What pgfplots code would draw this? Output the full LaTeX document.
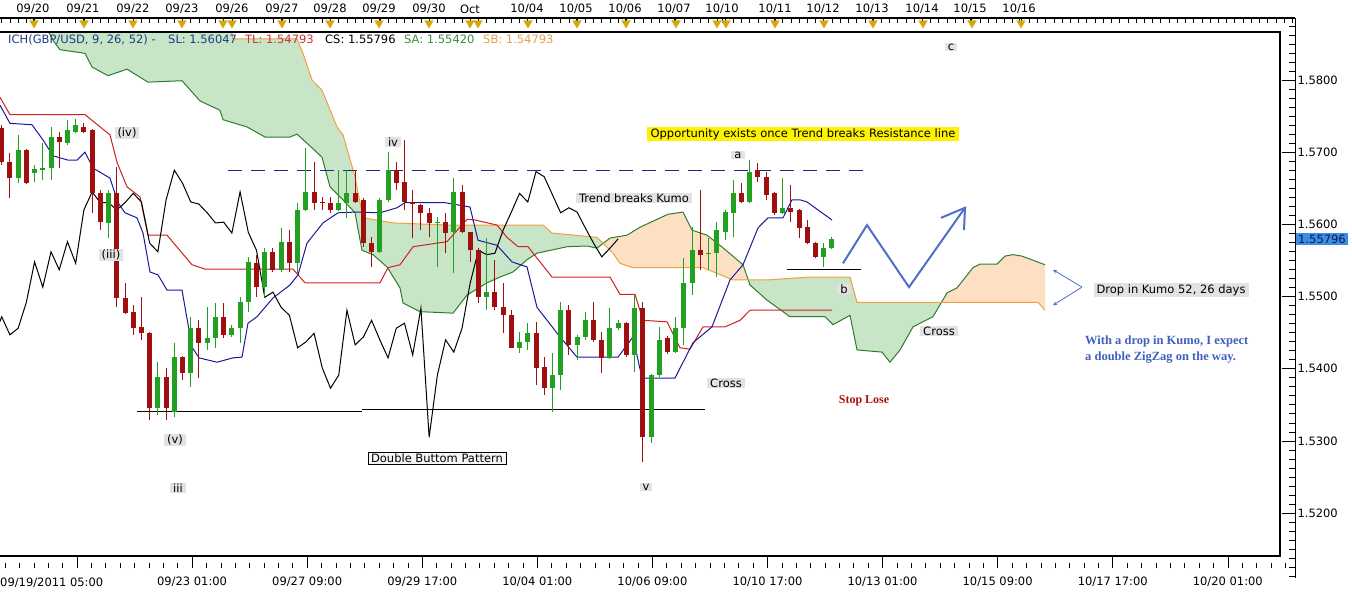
\documentclass[border=0pt]{standalone}
\usepackage{fontspec}
\setmainfont{DejaVu Sans}
\newfontfamily\serifb{Liberation Serif}
\usepackage{pgfplots}
\usepackage{pgfplotstable}
\pgfplotsset{compat=1.18}
\newcommand\tf{\fontsize{11.5}{13}\selectfont}
\definecolor{cred}{HTML}{A00F0F}
\definecolor{cgreen}{HTML}{22A022}
\definecolor{cloudg}{HTML}{C8E5C8}
\definecolor{cloudo}{HTML}{FDDFC4}
\definecolor{lineg}{HTML}{2E7D2E}
\definecolor{lineo}{HTML}{F0A040}
\definecolor{tenkan}{HTML}{1A1A9A}
\definecolor{kijun}{HTML}{D02020}
\definecolor{gold}{HTML}{D4A80A}
\definecolor{zig}{HTML}{4F6FC8}
\definecolor{lblgray}{HTML}{E2E2E2}
\definecolor{hlblue}{HTML}{3A8EE6}
\definecolor{navyd}{HTML}{1A2A80}
\definecolor{hltext}{HTML}{101848}
\definecolor{ichblue}{HTML}{1F3C88}
\definecolor{tlred}{HTML}{CC3333}
\definecolor{sagreen}{HTML}{3E8E3E}
\definecolor{sborange}{HTML}{E3A14F}
\definecolor{stopred}{HTML}{B01010}
\definecolor{zigtext}{HTML}{4060C0}

\pgfplotstableread{
i o h l c
2 1.5664 1.5724 1.5657 1.5703
4 1.5671 1.5682 1.5659 1.5677
5 1.5675 1.5713 1.5661 1.5678
6 1.5678 1.5735 1.5661 1.5721
8 1.5713 1.5745 1.5710 1.5731
9 1.5728 1.5746 1.5727 1.5738
13 1.5602 1.5648 1.5581 1.5643
19 1.5346 1.5409 1.5336 1.5388
21 1.5340 1.5436 1.5333 1.5416
23 1.5394 1.5472 1.5375 1.5456
25 1.5436 1.5485 1.5426 1.5443
26 1.5443 1.5491 1.5429 1.5472
28 1.5447 1.5461 1.5444 1.5456
29 1.5456 1.5499 1.5436 1.5492
30 1.5492 1.5555 1.5479 1.5548
32 1.5513 1.5567 1.5499 1.5562
34 1.5537 1.5595 1.5534 1.5576
36 1.5546 1.5630 1.5533 1.5620
37 1.5620 1.5706 1.5619 1.5645
41 1.5620 1.5675 1.5619 1.5630
42 1.5630 1.5675 1.5609 1.5643
46 1.5562 1.5637 1.5560 1.5634
47 1.5634 1.5700 1.5631 1.5675
53 1.5602 1.5610 1.5541 1.5603
55 1.5589 1.5664 1.5533 1.5645
59 1.5499 1.5581 1.5481 1.5506
63 1.5429 1.5451 1.5422 1.5437
64 1.5437 1.5463 1.5426 1.5449
67 1.5373 1.5422 1.5340 1.5391
68 1.5391 1.5492 1.5370 1.5481
70 1.5433 1.5447 1.5412 1.5444
71 1.5444 1.5479 1.5440 1.5467
74 1.5415 1.5484 1.5414 1.5456
75 1.5456 1.5467 1.5454 1.5463
77 1.5419 1.5502 1.5395 1.5484
79 1.5305 1.5392 1.5297 1.5391
80 1.5391 1.5458 1.5388 1.5440
82 1.5423 1.5472 1.5422 1.5456
83 1.5456 1.5553 1.5433 1.5519
84 1.5519 1.5596 1.5502 1.5564
86 1.5559 1.5581 1.5537 1.5560
87 1.5560 1.5603 1.5527 1.5592
88 1.5589 1.5620 1.5578 1.5617
89 1.5616 1.5661 1.5582 1.5643
91 1.5631 1.5689 1.5630 1.5673
95 1.5616 1.5664 1.5615 1.5623
100 1.5555 1.5574 1.5541 1.5567
101 1.5567 1.5582 1.5566 1.5580
}\greentab

\pgfplotstableread{
i o h l c
0 1.5734 1.5738 1.5682 1.5686
1 1.5686 1.5699 1.5637 1.5664
3 1.5703 1.5704 1.5656 1.5657
7 1.5721 1.5728 1.5678 1.5714
10 1.5735 1.5740 1.5727 1.5728
11 1.5731 1.5732 1.5616 1.5643
12 1.5643 1.5648 1.5592 1.5603
14 1.5643 1.5679 1.5485 1.5498
15 1.5498 1.5519 1.5476 1.5477
16 1.5479 1.5488 1.5447 1.5456
17 1.5458 1.5499 1.5440 1.5449
18 1.5449 1.5451 1.5329 1.5346
20 1.5388 1.5401 1.5329 1.5346
22 1.5416 1.5417 1.5384 1.5394
24 1.5456 1.5467 1.5387 1.5436
27 1.5472 1.5491 1.5443 1.5447
31 1.5546 1.5558 1.5499 1.5513
33 1.5562 1.5567 1.5534 1.5537
35 1.5576 1.5592 1.5534 1.5546
38 1.5645 1.5686 1.5620 1.5630
39 1.5631 1.5638 1.5620 1.5630
40 1.5630 1.5638 1.5616 1.5620
43 1.5643 1.5675 1.5630 1.5631
44 1.5634 1.5637 1.5569 1.5574
45 1.5574 1.5582 1.5541 1.5562
48 1.5675 1.5686 1.5648 1.5657
49 1.5659 1.5717 1.5620 1.5631
50 1.5631 1.5648 1.5581 1.5628
51 1.5627 1.5628 1.5592 1.5616
52 1.5616 1.5623 1.5582 1.5602
54 1.5603 1.5616 1.5560 1.5588
56 1.5645 1.5655 1.5588 1.5589
57 1.5589 1.5590 1.5548 1.5564
58 1.5564 1.5567 1.5491 1.5499
60 1.5506 1.5551 1.5481 1.5485
61 1.5485 1.5519 1.5449 1.5474
62 1.5474 1.5481 1.5428 1.5429
65 1.5449 1.5465 1.5377 1.5401
66 1.5402 1.5416 1.5364 1.5373
69 1.5481 1.5488 1.5419 1.5433
72 1.5467 1.5492 1.5437 1.5440
73 1.5440 1.5451 1.5394 1.5415
76 1.5463 1.5465 1.5416 1.5419
78 1.5484 1.5492 1.5271 1.5305
81 1.5443 1.5445 1.5421 1.5423
85 1.5564 1.5648 1.5537 1.5558
90 1.5643 1.5657 1.5630 1.5631
92 1.5675 1.5685 1.5659 1.5666
93 1.5666 1.5673 1.5634 1.5641
94 1.5643 1.5645 1.5613 1.5616
96 1.5623 1.5655 1.5603 1.5617
97 1.5620 1.5621 1.5581 1.5595
98 1.5596 1.5606 1.5573 1.5574
99 1.5574 1.5575 1.5553 1.5555
}\redtab

\pgfplotstableread{
i c
25 1.5443
26 1.5472
27 1.5447
28 1.5456
29 1.5492
30 1.5548
31 1.5513
32 1.5562
33 1.5537
34 1.5576
35 1.5546
36 1.5620
37 1.5645
38 1.5630
39 1.5630
40 1.5620
41 1.5630
42 1.5643
43 1.5631
44 1.5574
45 1.5562
46 1.5634
47 1.5675
48 1.5657
49 1.5631
50 1.5628
51 1.5616
52 1.5602
53 1.5603
54 1.5588
55 1.5645
56 1.5589
57 1.5564
58 1.5499
59 1.5506
60 1.5485
61 1.5474
62 1.5429
63 1.5437
64 1.5449
65 1.5401
66 1.5373
67 1.5391
68 1.5481
69 1.5433
70 1.5444
71 1.5467
72 1.5440
73 1.5415
74 1.5456
75 1.5463
76 1.5419
77 1.5484
78 1.5305
79 1.5391
80 1.5440
81 1.5423
82 1.5456
83 1.5519
84 1.5564
85 1.5558
86 1.5560
87 1.5592
88 1.5617
89 1.5643
90 1.5631
91 1.5673
92 1.5666
93 1.5641
94 1.5616
95 1.5623
96 1.5617
97 1.5595
98 1.5574
99 1.5555
100 1.5567
101 1.5580
}\closetab

\pgfplotstableread{
x y
0 1.5765
10 1.5740
32 1.5738
43 1.5717
53 1.5695
68 1.5689
77 1.5689
85 1.5700
93 1.5678
110 1.5664
118 1.5630
125 1.5616
137 1.5609
143 1.5588
150 1.5534
158 1.5530
167 1.5509
182 1.5509
192 1.5430
199 1.5415
217 1.5409
233 1.5415
242 1.5416
248 1.5463
257 1.5472
273 1.5498
290 1.5516
298 1.5530
307 1.5574
323 1.5602
338 1.5616
356 1.5617
380 1.5616
397 1.5623
405 1.5630
445 1.5630
470 1.5624
478 1.5578
497 1.5571
512 1.5548
527 1.5541
537 1.5485
560 1.5444
577 1.5416
618 1.5416
633 1.5444
642 1.5387
675 1.5387
693 1.5436
712 1.5458
730 1.5523
743 1.5544
758 1.5595
768 1.5609
783 1.5609
792 1.5634
800 1.5634
807 1.5631
832 1.5606
}\tenkantab

\pgfplotstableread{
x y
0 1.5776
10 1.5752
85 1.5752
110 1.5724
117 1.5686
127 1.5652
140 1.5638
148 1.5585
167 1.5585
192 1.5544
205 1.5538
293 1.5538
305 1.5519
380 1.5519
388 1.5540
400 1.5544
413 1.5569
447 1.5576
467 1.5607
475 1.5606
497 1.5599
507 1.5582
518 1.5569
528 1.5569
552 1.5527
610 1.5527
620 1.5503
635 1.5503
643 1.5467
667 1.5465
680 1.5429
690 1.5427
703 1.5458
725 1.5458
740 1.5467
750 1.5481
832 1.5481
}\kijuntab

\pgfplotstableread{
x y
45 1.5876
53 1.5855
60 1.5842
85 1.5837
92 1.5818
108 1.5806
127 1.5815
148 1.5797
182 1.5799
200 1.5771
220 1.5758
223 1.5745
247 1.5735
265 1.5721
290 1.5721
297 1.5725
312 1.5706
322 1.5693
330 1.5652
343 1.5634
355 1.5616
362 1.5564
373 1.5558
387 1.5541
400 1.5512
403 1.5491
420 1.5479
453 1.5477
467 1.5502
487 1.5519
500 1.5527
513 1.5534
527 1.5551
537 1.5560
567 1.5569
587 1.5570
597 1.5567
610 1.5581
627 1.5585
640 1.5596
668 1.5614
683 1.5617
692 1.5592
707 1.5585
720 1.5571
743 1.5544
750 1.5516
767 1.5495
790 1.5472
825 1.5472
833 1.5461
850 1.5474
857 1.5426
882 1.5423
890 1.5409
900 1.5426
913 1.5458
933 1.5472
947 1.5505
957 1.5512
973 1.5540
980 1.5545
997 1.5545
1005 1.5556
1013 1.5558
1022 1.5556
1045 1.5544
}\satab

\pgfplotstableread{
x y
45 1.5890
228 1.5890
233 1.5857
297 1.5857
303 1.5837
312 1.5800
322 1.5786
337 1.5735
343 1.5724
355 1.5666
363 1.5609
393 1.5602
450 1.5599
543 1.5599
552 1.5588
597 1.5582
613 1.5560
620 1.5546
633 1.5540
703 1.5540
733 1.5523
767 1.5523
810 1.5527
850 1.5527
857 1.5492
1038 1.5492
1045 1.5481
}\sbtab

\begin{document}
\begin{tikzpicture}
\useasboundingbox (0pt,0pt) rectangle (1352pt,-595pt);
\fill[white] (0pt,0pt) rectangle (1352pt,-595pt);

% ---- top date ruler
\begin{axis}[
  at={(0pt,-28pt)}, anchor=south west,
  scale only axis, width=1295pt, height=10pt,
  xmin=0, xmax=1295, ymin=0, ymax=1,
  axis x line*=top, axis y line=none,
  x axis line style={line width=1.2pt},
  xtick={33,83,133,182,232,282,330,379,429,470,527,576,625,674,722,775,823,872,922,970,1019},
  xticklabels={09/20,09/21,09/22,09/23,09/26,09/27,09/28,09/29,09/30,Oct,10/04,10/05,10/06,10/07,10/10,10/11,10/12,10/13,10/14,10/15,10/16},
  minor xtick={1.7,9.92,...,1295},
  tick align=inside, major tick length=5pt, minor tick length=5pt,
  tick style={black, line width=0.6pt},
  xticklabel style={font=\tf},
  xticklabel shift=0.5pt,
  clip=false,
]
\addplot[only marks, mark=triangle*, mark size=5pt,
  mark options={rotate=180, fill=gold, draw=gold}]
  coordinates {(34,0.5) (84,0.5) (133,0.5) (182,0.5) (223,0.5) (232,0.5) (282,0.5) (330,0.5) (379,0.5) (429,0.5) (470,0.5) (478,0.5) (528,0.5) (577,0.5) (626,0.5) (676,0.5) (717,0.5) (726,0.5) (775,0.5) (824,0.5) (873,0.5) (923,0.5) (972,0.5) (1021,0.5)};
\end{axis}

% ---- right price axis
\begin{axis}[
  at={(0pt,-578pt)}, anchor=south west,
  scale only axis, width=1295pt, height=560pt,
  xmin=0, xmax=1, ymin=1.510997, ymax=1.588591,
  axis y line*=right, axis x line=none,
  y axis line style={line width=0.8pt},
  ytick={1.52,1.53,1.54,1.55,1.56,1.57,1.58},
  yticklabels={1.5200,1.5300,1.5400,1.5500,1.5600,1.5700,1.5800},
  minor ytick={1.51125,1.5125,...,1.5875},
  tick align=inside, major tick length=13pt, minor tick length=6pt,
  tick style={black, line width=0.6pt},
  yticklabel style={font=\tf, xshift=-1pt},
]
\addplot[draw=none] coordinates {(0,1.55)};
\end{axis}

% ---- bottom time ruler
\begin{axis}[
  at={(0pt,-568pt)}, anchor=south west,
  scale only axis, width=1295pt, height=10pt,
  xmin=0, xmax=1295, ymin=0, ymax=1,
  axis x line*=bottom, axis y line=none,
  x axis line style={draw=none},
  xtick={77,192.08,307.16,422.24,537.32,652.4,767.48,882.56,997.64,1112.72,1227.8},
  xticklabels={{},09/23 01:00,09/27 09:00,09/29 17:00,10/04 01:00,10/06 09:00,10/10 17:00,10/13 01:00,10/15 09:00,10/17 17:00,10/20 01:00},
  minor xtick={5.07,19.455,...,1290},
  tick align=inside, major tick length=13pt, minor tick length=5pt,
  tick style={black, line width=0.6pt},
  xticklabel style={font=\tf},
  xticklabel shift=5pt,
]
\addplot[draw=none] coordinates {(0,0)};
\end{axis}

% ---- main chart
\begin{axis}[
  at={(-2pt,-556pt)}, anchor=south west,
  scale only axis, width=1282pt, height=524pt,
  xmin=-2, xmax=1280, ymin=1.514046, ymax=1.586651,
  axis line style={line width=1.6pt},
  xtick=\empty, ytick=\empty,
  axis on top,
]
% cloud (Kumo) areas: senkou A forward, senkou B backward
\addplot[fill=cloudg, draw=none, forget plot] coordinates {
 (45,1.5876) (53,1.5855) (60,1.5842) (85,1.5837) (92,1.5818) (108,1.5806) (127,1.5815) (148,1.5797) (182,1.5799) (200,1.5771) (220,1.5758) (223,1.5745) (247,1.5735) (265,1.5721) (290,1.5721) (297,1.5725) (312,1.5706) (322,1.5693) (330,1.5652) (343,1.5634) (355,1.5616) (362,1.5564) (373,1.5558) (387,1.5541) (400,1.5512) (403,1.5491) (420,1.5479) (453,1.5477) (467,1.5502) (487,1.5519) (500,1.5527) (513,1.5534) (527,1.5551) (537,1.5560) (567,1.5569) (587,1.5570) (597,1.5567) (603,1.5574)
 (597,1.5582) (552,1.5588) (543,1.5599) (450,1.5599) (393,1.5602) (363,1.5609) (355,1.5666) (343,1.5724) (337,1.5735) (322,1.5786) (312,1.5800) (303,1.5837) (297,1.5857) (233,1.5857) (228,1.5890) (45,1.5890)};
\addplot[fill=cloudo, draw=none, forget plot] coordinates {
 (603,1.5574) (610,1.5581) (627,1.5585) (640,1.5596) (668,1.5614) (683,1.5617) (692,1.5592) (707,1.5585) (720,1.5571) (743,1.5544) (748,1.5523)
 (733,1.5523) (703,1.5540) (633,1.5540) (620,1.5546) (613,1.5560)};
\addplot[fill=cloudg, draw=none, forget plot] coordinates {
 (748,1.5523) (750,1.5516) (767,1.5495) (790,1.5472) (825,1.5472) (833,1.5461) (850,1.5474) (857,1.5426) (882,1.5423) (890,1.5409) (900,1.5426) (913,1.5458) (933,1.5472) (941.5,1.5492)
 (857,1.5492) (850,1.5527) (810,1.5527) (767,1.5523)};
\addplot[fill=cloudo, draw=none, forget plot] coordinates {
 (941.5,1.5492) (947,1.5505) (957,1.5512) (973,1.5540) (980,1.5545) (997,1.5545) (1005,1.5556) (1013,1.5558) (1022,1.5556) (1045,1.5544)
 (1045,1.5481) (1038,1.5492)};
\addplot[lineg, line width=1pt] table[x=x,y=y] {\satab};
\addplot[lineo, line width=1pt] table[x=x,y=y] {\sbtab};
% kijun / tenkan / chikou
\addplot[kijun, line width=1pt] table[x=x,y=y] {\kijuntab};
\addplot[tenkan, line width=1pt] table[x=x,y=y] {\tenkantab};
\addplot[black, line width=1pt] table[x expr=1.7+8.22*(\thisrow{i}-26), y=c] {\closetab};
% annotations (lines)
\addplot[navyd, line width=1.2pt, dash pattern=on 14pt off 9pt] coordinates {(228,1.5675) (868,1.5675)};
\addplot[black, line width=1pt] coordinates {(137,1.5340) (362,1.5340)};
\addplot[black, line width=1pt] coordinates {(362,1.5343) (705,1.5343)};
\addplot[black, line width=1pt] coordinates {(787,1.5538) (861,1.5538)};
% candles: wicks
\addplot[draw=none, mark=none, forget plot,
  error bars/.cd, y dir=plus, y explicit, error mark=none,
  error bar style={draw=cgreen, line width=1pt, solid}]
  table[x expr=1.7+8.22*\thisrow{i}, y=l, y error plus expr=\thisrow{h}-\thisrow{l}] {\greentab};
\addplot[draw=none, mark=none, forget plot,
  error bars/.cd, y dir=plus, y explicit, error mark=none,
  error bar style={draw=cred, line width=1pt, solid}]
  table[x expr=1.7+8.22*\thisrow{i}, y=l, y error plus expr=\thisrow{h}-\thisrow{l}] {\redtab};
% candles: bodies
\addplot[draw=none, mark=none, forget plot,
  error bars/.cd, y dir=plus, y explicit, error mark=none,
  error bar style={draw=cgreen, line width=5pt, solid}]
  table[x expr=1.7+8.22*\thisrow{i}, y=o, y error plus expr=\thisrow{c}-\thisrow{o}] {\greentab};
\addplot[draw=none, mark=none, forget plot,
  error bars/.cd, y dir=plus, y explicit, error mark=none,
  error bar style={draw=cred, line width=5pt, solid}]
  table[x expr=1.7+8.22*\thisrow{i}, y=c, y error plus expr=\thisrow{o}-\thisrow{c}] {\redtab};
% zigzag projection
\addplot[zig, line width=2pt] coordinates {(843,1.5546) (867,1.5599) (909,1.5513) (965,1.5623)};
\addplot[zig, line width=2pt] coordinates {(941,1.5609) (965,1.5623) (964,1.5592)};
\addplot[zig, line width=0.8pt, -stealth] coordinates {(1082,1.5513) (1053,1.5537)};
\addplot[zig, line width=0.8pt, -stealth] coordinates {(1082,1.5513) (1053,1.5488)};
\end{axis}

% ---- texts
\begin{scope}[x=1pt,y=-1pt, every node/.style={font=\tf, inner sep=0pt}]
\node[anchor=base west, text=ichblue] at (8,43) {ICH(GBP/USD, 9, 26, 52) -};
\node[anchor=base west, text=ichblue] at (168,43) {SL: 1.56047};
\node[anchor=base west, text=tlred] at (245,43) {TL: 1.54793};
\node[anchor=base west, text=black] at (325,43) {CS: 1.55796};
\node[anchor=base west, text=sagreen] at (404,43) {SA: 1.55420};
\node[anchor=base west, text=sborange] at (483,43) {SB: 1.54793};
\tikzset{gl/.style={fill=lblgray, inner xsep=3pt, inner ysep=1pt}}
\node[gl] at (127,133) {(iv)};
\node[gl] at (111,255) {(iii)};
\node[gl] at (175,440) {(v)};
\node[gl] at (178,488) {iii};
\node[gl] at (393,142) {iv};
\node[gl] at (646,487) {v};
\node[gl] at (738,155) {a};
\node[gl] at (844,289) {b};
\node[gl] at (951,47) {c};
\node[gl] at (726,383) {Cross};
\node[gl] at (939,331) {Cross};
\node[gl] at (634,198) {Trend breaks Kumo};
\node[gl] at (1171,290) {Drop in Kumo 52, 26 days};
\node[fill=gray!8, draw=black, line width=0.8pt, inner xsep=3pt, inner ysep=1.5pt] at (437,458) {Double Buttom Pattern};
\node[fill=yellow, inner xsep=4pt, inner ysep=1.5pt] at (803,134) {Opportunity exists once Trend breaks Resistance line};
\node[text=stopred, font=\serifb\bfseries\fontsize{12}{13}\selectfont] at (864,401) {Stop Lose};
\node[anchor=west, text=zigtext, font=\serifb\bfseries\fontsize{12.5}{14}\selectfont] at (1085,341) {With a drop in Kumo, I expect};
\node[anchor=west, text=zigtext, font=\serifb\bfseries\fontsize{12.5}{14}\selectfont] at (1085,358) {a double ZigZag on the way.};
\node[anchor=west, fill=hlblue, text=hltext, inner xsep=2pt, inner ysep=2pt] at (1296,239) {1.55796};
\node[anchor=west] at (0,583) {09/19/2011 05:00};
\end{scope}
\end{tikzpicture}
\end{document}
